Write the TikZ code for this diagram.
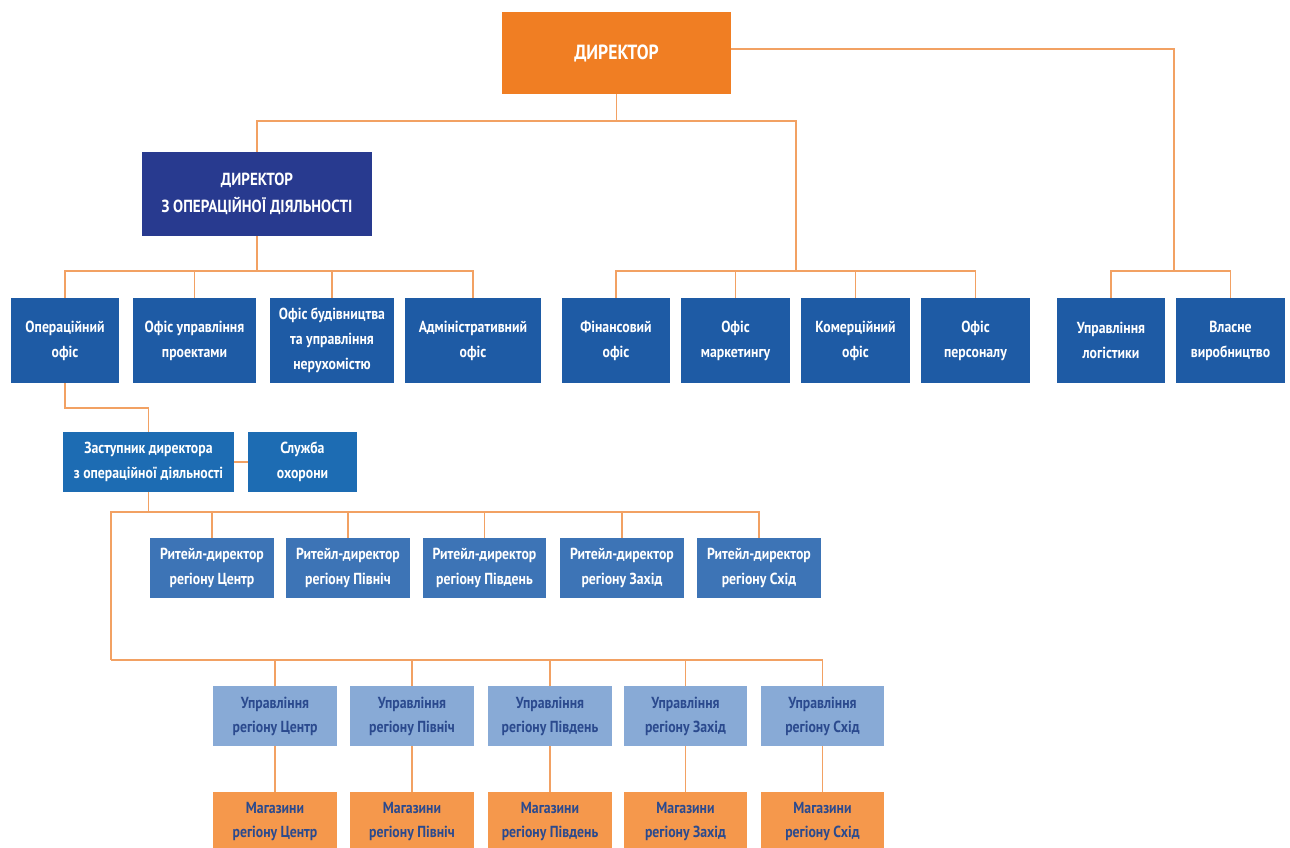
\documentclass[tikz,border=0pt]{standalone}
\usepackage{fontspec}
\setmainfont{PT Sans}[FakeStretch=0.86]
\definecolor{dirorange}{HTML}{F07E23}
\definecolor{navy}{HTML}{283A8F}
\definecolor{blueA}{HTML}{1E5BA5}
\definecolor{blueB}{HTML}{1D6CB3}
\definecolor{blueC}{HTML}{3D74B6}
\definecolor{lightblue}{HTML}{88AAD6}
\definecolor{darktext}{HTML}{2B4A8E}
\definecolor{lightorange}{HTML}{F5984C}
\definecolor{linecol}{HTML}{F2A163}
\newcommand\mybox[7]{\node[#6, minimum width={#4-#2}, minimum height={#5-#3}] (#1) at ({(#2+#4)/2},{(#3+#5)/2}) {#7};}
\tikzset{
  base/.style={rectangle, inner sep=0pt, align=center, font=\bfseries\fontsize{16}{25}\selectfont},
  topbox/.style={base, fill=dirorange, text=white, font=\bfseries\fontsize{20.5}{26}\selectfont},
  opsbox/.style={base, fill=navy, text=white, font=\bfseries\fontsize{17.5}{27}\selectfont},
  boxA/.style={base, fill=blueA, text=white},
  boxB/.style={base, fill=blueB, text=white},
  boxC/.style={base, fill=blueC, text=white},
  boxU/.style={base, fill=lightblue, text=darktext, font=\bfseries\fontsize{16}{24}\selectfont},
  boxM/.style={base, fill=lightorange, text=darktext, font=\bfseries\fontsize{16}{24}\selectfont},
  conn/.style={draw=linecol, line width=1.6pt}
}
\begin{document}
\begin{tikzpicture}[x=1pt, y=-1pt]
\useasboundingbox[fill=white] (0,0) rectangle (1290,848);
% boxes
\mybox{dir}{502}{12}{731}{94}{topbox}{ДИРЕКТОР}
\mybox{opsdir}{142}{152}{372}{236}{opsbox}{ДИРЕКТОР\\З ОПЕРАЦІЙНОЇ ДІЯЛЬНОСТІ}
\mybox{op}{11}{298}{119}{383}{boxA}{Операційний\\офіс}
\mybox{proj}{133}{298}{256}{383}{boxA}{Офіс управління\\проектами}
\mybox{bud}{270}{298}{394}{383}{boxA}{Офіс будівництва\\та управління\\нерухомістю}
\mybox{adm}{405}{298}{541}{383}{boxA}{Адміністративний\\офіс}
\mybox{fin}{562}{298}{670}{383}{boxA}{Фінансовий\\офіс}
\mybox{mkt}{681}{298}{790}{383}{boxA}{Офіс\\маркетингу}
\mybox{com}{801}{298}{910}{383}{boxA}{Комерційний\\офіс}
\mybox{pers}{921}{298}{1030}{383}{boxA}{Офіс\\персоналу}
\mybox{log}{1057}{298}{1165}{383}{boxA}{Управління\\логістики}
\mybox{own}{1176}{298}{1285}{383}{boxA}{Власне\\виробництво}
\mybox{zast}{63}{432}{234}{492}{boxB}{Заступник директора\\з операційної діяльності}
\mybox{sec}{248}{432}{357}{492}{boxB}{Служба\\охорони}
\mybox{r1}{150}{538}{274}{598}{boxC}{Ритейл-директор\\регіону Центр}
\mybox{r2}{286}{538}{410}{598}{boxC}{Ритейл-директор\\регіону Північ}
\mybox{r3}{423}{538}{546}{598}{boxC}{Ритейл-директор\\регіону Південь}
\mybox{r4}{560}{538}{684}{598}{boxC}{Ритейл-директор\\регіону Захід}
\mybox{r5}{697}{538}{821}{598}{boxC}{Ритейл-директор\\регіону Схід}
\mybox{u1}{213}{686}{337}{746}{boxU}{Управління\\регіону Центр}
\mybox{u2}{350}{686}{474}{746}{boxU}{Управління\\регіону Північ}
\mybox{u3}{488}{686}{612}{746}{boxU}{Управління\\регіону Південь}
\mybox{u4}{624}{686}{747}{746}{boxU}{Управління\\регіону Захід}
\mybox{u5}{761}{686}{884}{746}{boxU}{Управління\\регіону Схід}
\mybox{m1}{213}{792}{337}{852}{boxM}{Магазини\\регіону Центр}
\mybox{m2}{350}{792}{474}{852}{boxM}{Магазини\\регіону Північ}
\mybox{m3}{488}{792}{612}{852}{boxM}{Магазини\\регіону Південь}
\mybox{m4}{624}{792}{747}{852}{boxM}{Магазини\\регіону Захід}
\mybox{m5}{761}{792}{884}{852}{boxM}{Магазини\\регіону Схід}
% junctions
\coordinate (j1) at (dir.south |- 0,121);
\coordinate (b2) at (796,271);
\coordinate (b3) at (1174,271);
\coordinate (b1) at (opsdir.south |- 0,271);
\coordinate (b4) at (zast.south |- 0,512);
\coordinate (b5) at (111,512);
\coordinate (b6) at (111,660);
% connectors
\draw[conn] (dir.south) -- (j1) -| (opsdir.north);
\draw[conn] (j1) -| (b2);
\foreach \n in {fin,mkt,com,pers} \draw[conn] (b2) -| (\n.north);
\draw[conn] ([yshift=4pt]dir.east) -| (b3);
\foreach \n in {log,own} \draw[conn] (b3) -| (\n.north);
\draw[conn] (opsdir.south) -- (b1);
\foreach \n in {op,proj,bud,adm} \draw[conn] (b1) -| (\n.north);
\draw[conn] (op.south) -- ++(0,25) -| (zast.north);
\draw[conn] (zast.east) -- (sec.west);
\draw[conn] (zast.south) -- (b4);
\foreach \n in {r1,r2,r3,r4,r5} \draw[conn] (b4) -| (\n.north);
\draw[conn] (b4) -- (b5) -- (b6);
\foreach \n in {u1,u2,u3,u4,u5} \draw[conn] (b6) -| (\n.north);
\foreach \i in {1,...,5} \draw[conn] (u\i.south) -- (m\i.north);
\end{tikzpicture}
\end{document}
